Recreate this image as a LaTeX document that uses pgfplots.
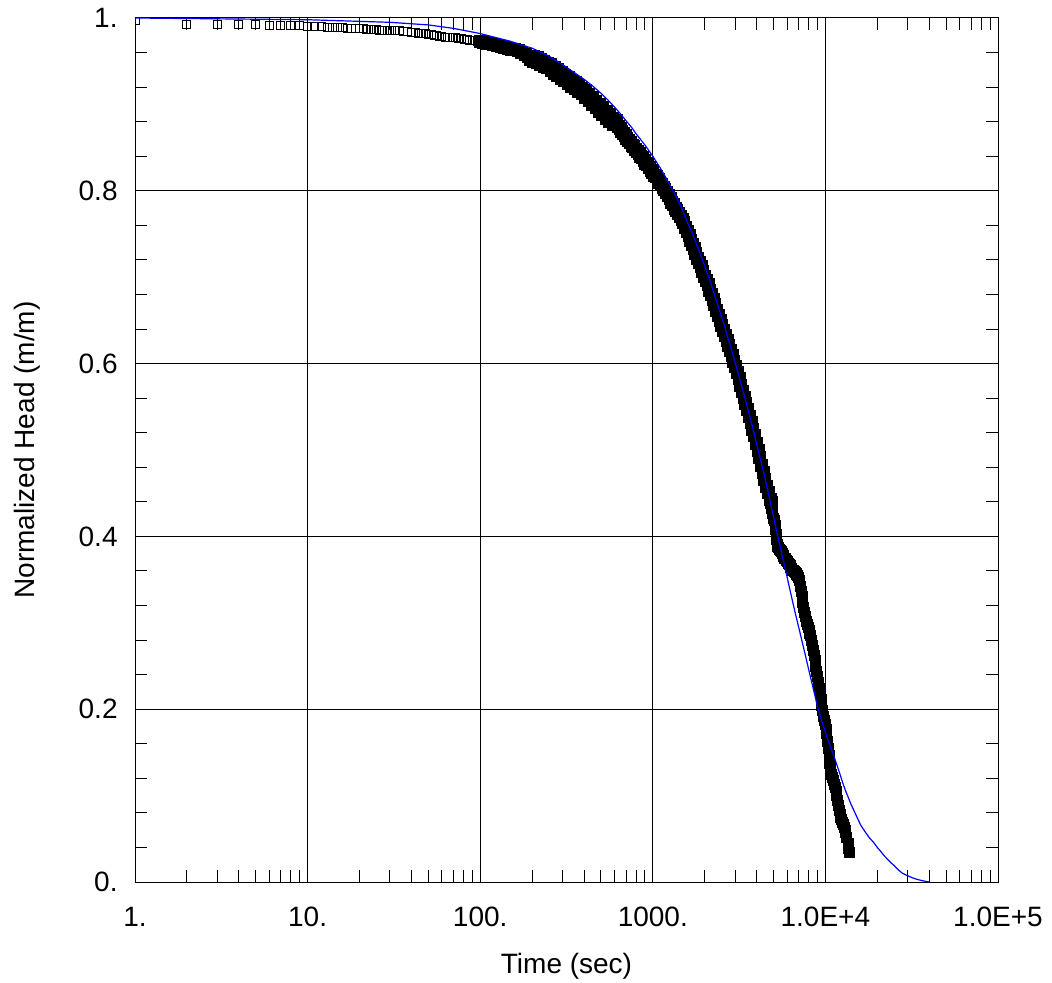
\documentclass[border=0pt]{standalone}
\usepackage{fontspec}
\setmainfont{Liberation Sans}
\usepackage{pgfplots}
\pgfplotsset{compat=1.18}
\pgfplotstableread{
t h
1 0.997
2 0.993
3 0.992
4 0.992
5 0.992
6 0.991
7 0.991
8 0.991
9 0.991
10 0.990
11 0.990
12 0.990
13 0.989
14 0.989
15 0.989
16 0.989
17 0.988
18 0.988
19 0.988
20 0.988
21 0.988
22 0.987
23 0.987
24 0.987
25 0.987
26 0.986
27 0.986
28 0.986
29 0.986
30 0.986
32 0.985
34 0.985
36 0.984
38 0.984
40 0.983
42 0.983
44 0.982
46 0.982
48 0.982
50 0.981
52 0.981
54 0.980
56 0.980
58 0.979
60 0.979
63 0.978
66 0.978
69 0.977
72 0.977
75 0.976
78 0.976
81 0.975
84 0.975
87 0.974
90 0.974
93 0.974
96 0.973
}\early
\pgfplotstableread{
t h
100 0.973
105 0.972
110 0.971
115 0.970
120 0.969
126 0.968
132 0.967
138 0.966
145 0.965
151 0.964
158 0.963
166 0.962
174 0.960
182 0.958
191 0.956
}\midA
\pgfplotstableread{
t h
200 0.954
209 0.952
219 0.950
229 0.948
240 0.946
251 0.944
263 0.941
275 0.938
288 0.935
302 0.932
316 0.929
331 0.926
347 0.923
363 0.920
380 0.917
398 0.914
417 0.910
437 0.906
457 0.902
479 0.898
501 0.894
525 0.890
550 0.886
575 0.882
603 0.879
}\midB
\pgfplotstableread{
t h
631 0.874
646 0.872
661 0.869
676 0.866
692 0.864
708 0.861
724 0.858
741 0.856
759 0.853
776 0.851
794 0.848
813 0.845
832 0.843
851 0.840
871 0.838
891 0.835
912 0.832
933 0.830
955 0.827
977 0.824
1000 0.821
1023 0.818
1047 0.816
1072 0.813
1096 0.810
1122 0.807
1148 0.804
1175 0.801
1202 0.798
1230 0.794
1259 0.791
1288 0.787
1318 0.784
1349 0.780
1380 0.777
1413 0.774
1445 0.770
1479 0.767
1514 0.763
1549 0.758
1585 0.753
1622 0.748
1660 0.743
1698 0.738
1738 0.733
1778 0.728
1820 0.722
1862 0.717
1905 0.712
1950 0.707
1995 0.701
2042 0.696
2089 0.691
2138 0.685
2188 0.680
2239 0.674
2291 0.668
2344 0.662
2399 0.656
2455 0.650
2512 0.644
2570 0.638
2630 0.633
2692 0.627
2754 0.621
2818 0.615
2884 0.609
2951 0.603
3020 0.597
3090 0.590
3162 0.583
3236 0.575
3311 0.568
3388 0.561
3467 0.554
3548 0.547
3631 0.539
3715 0.532
3802 0.524
3890 0.517
3981 0.508
4074 0.500
4169 0.491
4266 0.482
4365 0.474
4467 0.466
4571 0.458
4677 0.451
4786 0.443
4842 0.439
}\midC
\pgfplotstableread{
t h
4898 0.432
4943 0.427
5012 0.421
5070 0.418
5129 0.413
5164 0.408
5188 0.402
5212 0.396
5248 0.391
5309 0.388
5370 0.387
5433 0.385
5495 0.384
5559 0.382
5623 0.380
5689 0.378
5754 0.377
5821 0.375
5888 0.374
5957 0.372
6026 0.371
6095 0.369
6166 0.368
6237 0.366
6310 0.364
6383 0.363
6457 0.361
6531 0.360
6607 0.359
6683 0.358
6761 0.357
6839 0.356
6918 0.355
6998 0.353
7079 0.349
7161 0.342
7244 0.336
7328 0.330
7413 0.324
7499 0.318
7586 0.312
7674 0.307
7762 0.302
7852 0.298
7943 0.295
8035 0.291
8128 0.288
8222 0.285
8318 0.280
8414 0.274
8511 0.268
8610 0.262
8710 0.256
8810 0.250
8913 0.244
9016 0.238
9120 0.231
9226 0.224
9333 0.218
9441 0.211
9550 0.204
9661 0.198
9772 0.192
9886 0.187
10000 0.182
10116 0.176
10210 0.172
10304 0.163
10399 0.154
10495 0.146
10593 0.137
10641 0.133
10765 0.129
10889 0.125
11015 0.121
11143 0.117
11272 0.113
11402 0.109
11535 0.105
11668 0.100
11803 0.094
11940 0.089
12078 0.083
12218 0.078
12303 0.075
12445 0.072
12589 0.069
12735 0.066
12882 0.063
13032 0.060
13152 0.057
13335 0.051
13521 0.044
13614 0.039
13709 0.034
}\late
\pgfplotstableread{
t h
1 1.000
10 0.998
30 0.995
50 0.992
70 0.988
100 0.982
150 0.973
200 0.965
250 0.956
300 0.946
350 0.937
400 0.929
450 0.921
500 0.913
550 0.905
600 0.897
650 0.889
700 0.881
750 0.874
800 0.866
900 0.853
1000 0.840
1100 0.827
1200 0.814
1300 0.801
1400 0.789
1500 0.776
1600 0.762
1700 0.750
1800 0.737
1900 0.725
2000 0.713
2150 0.695
2300 0.677
2450 0.660
2600 0.644
2800 0.622
3000 0.601
3200 0.581
3400 0.562
3600 0.543
3800 0.525
4000 0.507
4200 0.489
4400 0.473
4600 0.456
4800 0.439
5000 0.423
5250 0.404
5500 0.386
5750 0.369
6000 0.353
6250 0.337
6500 0.322
6750 0.308
7000 0.295
7500 0.270
8000 0.246
8500 0.224
9000 0.203
9500 0.187
10000 0.173
10500 0.161
11000 0.150
11500 0.139
12000 0.128
12500 0.117
13000 0.107
13500 0.099
14000 0.091
15000 0.078
16000 0.066
17000 0.058
18000 0.051
19000 0.046
20000 0.040
21000 0.035
22000 0.030
23500 0.024
25000 0.019
26500 0.014
28000 0.010
30000 0.0072
32000 0.0048
34000 0.0030
36000 0.0018
38000 0.0008
40000 0.000
}\fit
\begin{document}
\begin{tikzpicture}[font=\fontsize{14pt}{16.8pt}\selectfont]
\path[use as bounding box] (0,0) rectangle (526pt,491pt);
\begin{axis}[
  at={(67.5pt,50pt)}, anchor=south west,
  scale only axis, width=431.5pt, height=432pt,
  xmode=log, log basis x=10,
  xmin=1, xmax=100000, ymin=0, ymax=1,
  xtick={1,10,100,1000,10000,100000},
  xticklabels={1.,10.,100.,1000.,1.0E+4,1.0E+5},
  minor xtick={2,3,4,5,6,7,8,9,20,30,40,50,60,70,80,90,200,300,400,500,600,700,800,900,2000,3000,4000,5000,6000,7000,8000,9000,20000,30000,40000,50000,60000,70000,80000,90000},
  ytick={0,0.2,0.4,0.6,0.8,1},
  yticklabels={0.,0.2,0.4,0.6,0.8,1.},
  minor ytick={0.04,0.08,0.12,0.16,0.24,0.28,0.32,0.36,0.44,0.48,0.52,0.56,0.64,0.68,0.72,0.76,0.84,0.88,0.92,0.96},
  grid=major,
  major grid style={black, line width=0.5pt},
  axis line style={black, line width=0.5pt},
  tick style={black, line width=0.5pt},
  major tick length=6pt, minor tick length=6pt,
  tick align=inside,
  xtick pos=both, ytick pos=both,
  tick label style={font=\fontsize{14pt}{16.8pt}\selectfont},
  label style={font=\fontsize{14pt}{16.8pt}\selectfont},
  xticklabel style={anchor=north, inner sep=0pt, yshift=-12.5pt},
  yticklabel style={anchor=east, inner sep=0pt, xshift=-8.5pt},
  xlabel={Time (sec)}, ylabel={Normalized Head (m/m)},
  xlabel style={at={(rel axis cs:0.5,-0.0816)}, anchor=north, inner sep=0pt},
  ylabel style={at={(rel axis cs:-0.1246,0.5)}, anchor=center, inner sep=0pt},
  clip marker paths=true,
]
\addplot[only marks, mark=square, mark size=2pt, mark options={black, line width=0.5pt}] table[x=t, y=h] {\early};
\addplot[only marks, mark=square*, mark size=3pt, mark options={black, fill=black, line width=0.5pt}] table[x=t, y=h] {\midA};
\addplot[only marks, mark=square*, mark size=3.8pt, mark options={black, fill=black, line width=0.5pt}] table[x=t, y=h] {\midB};
\addplot[only marks, mark=square*, mark size=3pt, mark options={black, fill=black, line width=0.5pt}] table[x=t, y=h] {\midC};
\addplot[only marks, mark=square*, mark size=2.5pt, mark options={black, fill=black, line width=0.5pt}] table[x=t, y=h] {\late};
\addplot[blue, line width=0.6pt, no marks] table[x=t, y=h] {\fit};
\end{axis}
\end{tikzpicture}
\end{document}
